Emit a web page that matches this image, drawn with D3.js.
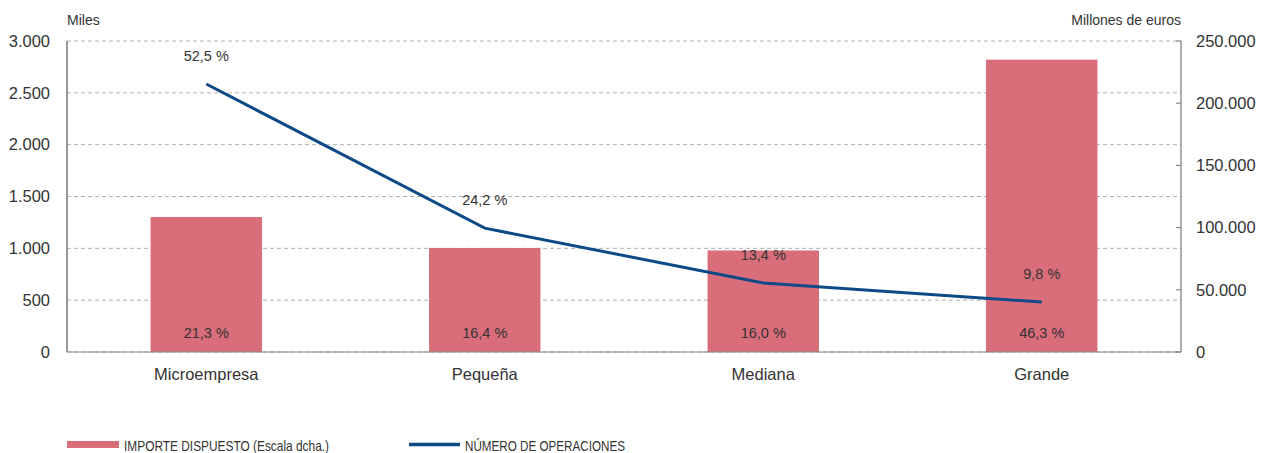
<!DOCTYPE html>
<html>
<head>
<meta charset="utf-8">
<script src="https://cdn.jsdelivr.net/npm/d3@7"></script>
<style>
  body { margin: 0; background: #fff; }
  text { font-family: "Liberation Sans", Arial, sans-serif; fill: #333; }
</style>
</head>
<body>
<script>
// chart data
var categories = ["Microempresa", "Pequeña", "Mediana", "Grande"];
var importe = [108500, 83600, 81600, 235000];      // millones de euros (right axis)
var importePct = ["21,3 %", "16,4 %", "16,0 %", "46,3 %"];
var operaciones = [2585, 1195, 665, 482];           // miles (left axis)
var operacionesPct = ["52,5 %", "24,2 %", "13,4 %", "9,8 %"];
var leftTicks = [0, 500, 1000, 1500, 2000, 2500, 3000];
var rightTicks = [0, 50000, 100000, 150000, 200000, 250000];

var W = 1261, H = 453;
var margin = {top: 41, left: 67, right: 80, bottom: 101};
var width = W - margin.left - margin.right;
var height = H - margin.top - margin.bottom;

var svg = d3.select("body").append("svg")
  .attr("width", W)
  .attr("height", H);

var g = svg.append("g")
  .attr("transform", "translate(" + margin.left + "," + margin.top + ")");

var x = d3.scaleBand().domain(categories).range([0, width])
  .paddingInner(0.6).paddingOuter(0.3);
var yL = d3.scaleLinear().domain([0, 3000]).range([height, 0]);
var yR = d3.scaleLinear().domain([0, 250000]).range([height, 0]);

var fmt = function(d) {
  return d3.format(",")(d).replace(/,/g, ".");
};

// grid lines
g.selectAll(".grid").data(leftTicks).enter().append("line")
  .attr("x1", 0).attr("x2", width)
  .attr("y1", function(d) { return yL(d); })
  .attr("y2", function(d) { return yL(d); })
  .attr("stroke", "#b0b0b0")
  .attr("stroke-dasharray", "4,3");

// bars
g.selectAll(".bar").data(importe).enter().append("rect")
  .attr("x", function(d, i) { return x(categories[i]); })
  .attr("y", function(d) { return yR(d); })
  .attr("width", x.bandwidth())
  .attr("height", function(d) { return height - yR(d); })
  .attr("fill", "#d96d7a");

// bar labels
g.selectAll(".blabel").data(importePct).enter().append("text")
  .attr("x", function(d, i) { return x(categories[i]) + x.bandwidth() / 2; })
  .attr("y", height - 14)
  .attr("text-anchor", "middle")
  .style("font-size", "14.5px")
  .text(function(d) { return d; });

// line
var line = d3.line()
  .x(function(d, i) { return x(categories[i]) + x.bandwidth() / 2; })
  .y(function(d) { return yL(d); });

g.append("path").datum(operaciones)
  .attr("d", line)
  .attr("fill", "none")
  .attr("stroke", "#0d4a87")
  .attr("stroke-width", 3);

g.selectAll(".llabel").data(operacionesPct).enter().append("text")
  .attr("x", function(d, i) { return x(categories[i]) + x.bandwidth() / 2; })
  .attr("y", function(d, i) { return yL(operaciones[i]) - 23; })
  .attr("text-anchor", "middle")
  .style("font-size", "14.5px")
  .text(function(d) { return d; });

// axes lines
g.append("line").attr("x1", 0).attr("x2", 0).attr("y1", 0).attr("y2", height)
  .attr("stroke", "#777").attr("stroke-width", 1.5);
g.append("line").attr("x1", width).attr("x2", width).attr("y1", 0).attr("y2", height)
  .attr("stroke", "#777").attr("stroke-width", 1.2);
g.append("line").attr("x1", 0).attr("x2", width).attr("y1", height).attr("y2", height)
  .attr("stroke", "#888").attr("stroke-width", 1.2);

// right tick marks
g.selectAll(".rtick").data(rightTicks).enter().append("line")
  .attr("x1", width - 5).attr("x2", width)
  .attr("y1", function(d) { return yR(d); })
  .attr("y2", function(d) { return yR(d); })
  .attr("stroke", "#777");

// left tick labels
g.selectAll(".ltl").data(leftTicks).enter().append("text")
  .attr("x", -17)
  .attr("y", function(d) { return yL(d); })
  .attr("dy", "0.35em")
  .attr("text-anchor", "end")
  .style("font-size", "16.5px")
  .text(fmt);

// right tick labels
g.selectAll(".rtl").data(rightTicks).enter().append("text")
  .attr("x", width + 15)
  .attr("y", function(d) { return yR(d); })
  .attr("dy", "0.35em")
  .style("font-size", "16.5px")
  .text(fmt);

// category labels
g.selectAll(".cat").data(categories).enter().append("text")
  .attr("x", function(d) { return x(d) + x.bandwidth() / 2; })
  .attr("y", height + 28)
  .attr("text-anchor", "middle")
  .style("font-size", "16.5px")
  .text(function(d) { return d; });

// unit titles
svg.append("text").attr("x", margin.left).attr("y", 25)
  .style("font-size", "14px").text("Miles");
svg.append("text").attr("x", margin.left + width).attr("y", 25)
  .attr("text-anchor", "end")
  .style("font-size", "14px").text("Millones de euros");

// legend (condensed text)
var leg = svg.append("g").attr("class", "legend");
leg.append("rect").attr("x", 67).attr("y", 441).attr("width", 52).attr("height", 7)
  .attr("fill", "#d96d7a");
leg.append("text").attr("x", 124).attr("y", 451)
  .attr("textLength", 205).attr("lengthAdjust", "spacingAndGlyphs")
  .style("font-size", "15px").text("IMPORTE DISPUESTO (Escala dcha.)");
leg.append("line").attr("x1", 409).attr("x2", 460).attr("y1", 444.5).attr("y2", 444.5)
  .attr("stroke", "#0d4a87").attr("stroke-width", 3.5);
leg.append("text").attr("x", 465).attr("y", 451)
  .attr("textLength", 160).attr("lengthAdjust", "spacingAndGlyphs")
  .style("font-size", "15px").text("NÚMERO DE OPERACIONES");
</script>
</body>
</html>
